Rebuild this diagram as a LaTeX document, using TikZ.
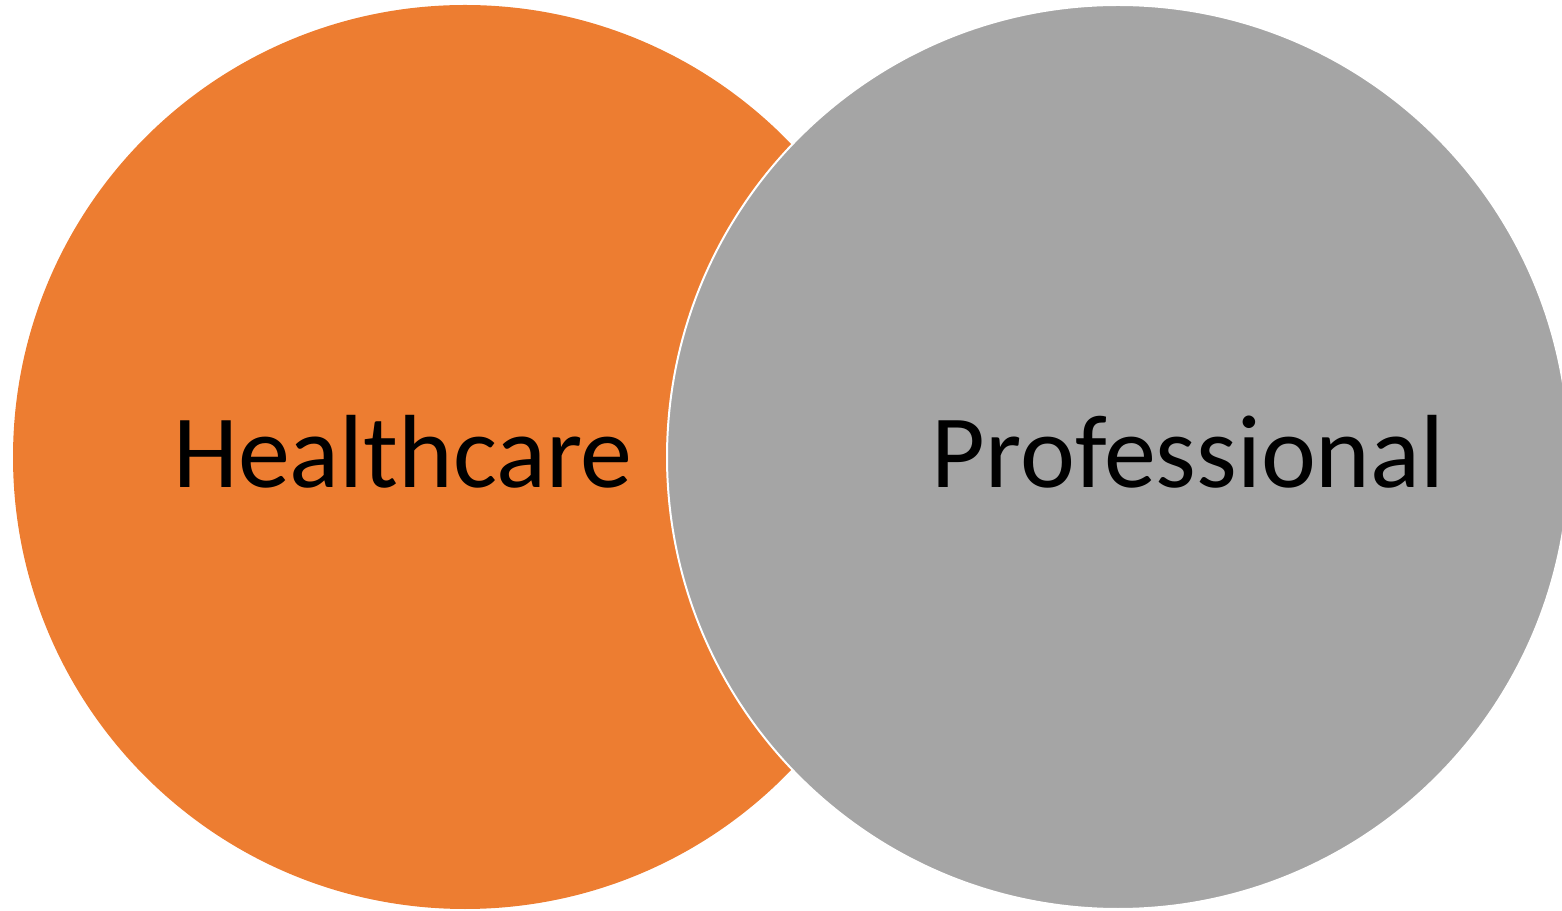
\documentclass[tikz,border=0pt]{standalone}
\usepackage{fontspec}
\setmainfont{Carlito}
\definecolor{vorange}{HTML}{ED7D31}
\definecolor{vgrey}{HTML}{A5A5A5}
\begin{document}
\begin{tikzpicture}[x=1pt,y=1pt,
  setcircle/.style={line width=2pt, draw=white},
  setlabel/.style={font=\fontsize{104}{110}\selectfont, text=black, anchor=base, inner sep=0pt}]
\useasboundingbox (0,0) rectangle (1562,910);
\clip (0,0) rectangle (1562,910);
\fill[vorange] (465,453) ellipse [x radius=452, y radius=452];
\filldraw[setcircle, fill=vgrey] (1118,453) ellipse [x radius=451, y radius=452];
\node[setlabel] (health) at (403,422) {Healthcare};
\node[setlabel] (prof) at (1188,422) {Professional};
\end{tikzpicture}
\end{document}
